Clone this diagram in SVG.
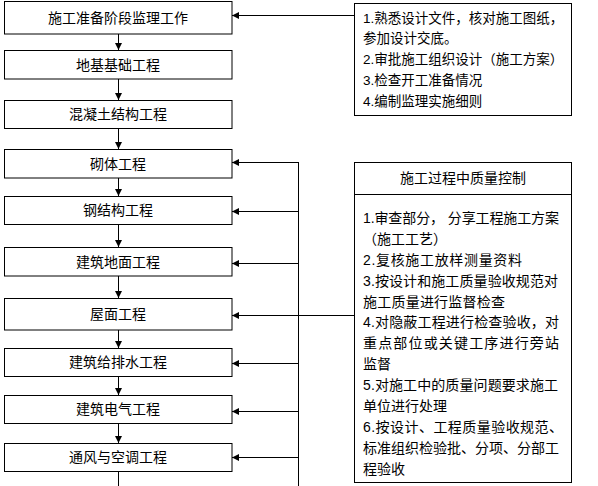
<svg xmlns="http://www.w3.org/2000/svg" width="598" height="486" viewBox="0 0 598 486">
<style>
.box{fill:#fff;stroke:#000;stroke-width:1}
.ln{fill:none;stroke:#000;stroke-width:1}
.t{font-family:"Liberation Sans","Noto Sans CJK SC",sans-serif;font-size:14px;fill:#000;text-anchor:middle}
.r{font-family:"Liberation Sans","Noto Sans CJK SC",sans-serif;font-size:13.5px;fill:#000}
.q{font-family:"Liberation Sans","Noto Sans CJK SC",sans-serif;font-size:14px;fill:#000}
</style>
<defs>
<marker id="ah" viewBox="0 0 7 7" refX="7" refY="3.5" markerWidth="7" markerHeight="7" orient="auto" markerUnits="userSpaceOnUse">
<path d="M0,0 L7,3.5 L0,7 z" fill="#000"/>
</marker>
</defs>
<rect width="598" height="486" fill="#fff"/>
<g id="connectors">
<path class="ln" d="M118.5,34 V50" marker-end="url(#ah)"/>
<path class="ln" d="M118.5,79 V100" marker-end="url(#ah)"/>
<path class="ln" d="M118.5,128 V149" marker-end="url(#ah)"/>
<path class="ln" d="M118.5,178 V196" marker-end="url(#ah)"/>
<path class="ln" d="M118.5,224 V247" marker-end="url(#ah)"/>
<path class="ln" d="M118.5,276 V298" marker-end="url(#ah)"/>
<path class="ln" d="M118.5,330 V348" marker-end="url(#ah)"/>
<path class="ln" d="M118.5,376 V395" marker-end="url(#ah)"/>
<path class="ln" d="M118.5,423 V443" marker-end="url(#ah)"/>
<path class="ln" d="M118.5,471 V486"/>
<path class="ln" d="M354,15.5 H232" marker-end="url(#ah)"/>
<path class="ln" d="M298.5,162 V486"/>
<path class="ln" d="M298.5,162.5 H232" marker-end="url(#ah)"/>
<path class="ln" d="M298.5,211.5 H232" marker-end="url(#ah)"/>
<path class="ln" d="M298.5,263.5 H232" marker-end="url(#ah)"/>
<path class="ln" d="M354,315.5 H232" marker-end="url(#ah)"/>
<path class="ln" d="M298.5,363.5 H232" marker-end="url(#ah)"/>
<path class="ln" d="M298.5,411.5 H232" marker-end="url(#ah)"/>
<path class="ln" d="M298.5,457.5 H232" marker-end="url(#ah)"/>
</g>
<g id="n1"><rect class="box" x="4.5" y="1.5" width="227.5" height="32.5"/><text class="t" x="118" y="22.5">施工准备阶段监理工作</text></g>
<g id="n2"><rect class="box" x="4.5" y="50.5" width="227.5" height="28.5"/><text class="t" x="118" y="69.5">地基基础工程</text></g>
<g id="n3"><rect class="box" x="4.5" y="100.5" width="227.5" height="28"/><text class="t" x="118" y="119">混凝土结构工程</text></g>
<g id="n4"><rect class="box" x="4.5" y="149.5" width="227.5" height="28.5"/><text class="t" x="118" y="168.5">砌体工程</text></g>
<g id="n5"><rect class="box" x="4.5" y="196.5" width="227.5" height="28"/><text class="t" x="118" y="215">钢结构工程</text></g>
<g id="n6"><rect class="box" x="4.5" y="247.5" width="227.5" height="28.5"/><text class="t" x="118" y="266.5">建筑地面工程</text></g>
<g id="n7"><rect class="box" x="4.5" y="298.5" width="227.5" height="31.5"/><text class="t" x="118" y="319">屋面工程</text></g>
<g id="n8"><rect class="box" x="4.5" y="348.5" width="227.5" height="28"/><text class="t" x="118" y="367">建筑给排水工程</text></g>
<g id="n9"><rect class="box" x="4.5" y="395.5" width="227.5" height="28"/><text class="t" x="118" y="414">建筑电气工程</text></g>
<g id="n10"><rect class="box" x="4.5" y="443.5" width="227.5" height="28"/><text class="t" x="118" y="462">通风与空调工程</text></g>
<g id="prep">
<rect class="box" x="354.5" y="3.5" width="217" height="112"/>
<text class="r" x="363" y="22.5">1.熟悉设计文件，核对施工图纸，</text>
<text class="r" x="363" y="43">参加设计交底。</text>
<text class="r" x="363" y="64">2.审批施工组织设计（施工方案）</text>
<text class="r" x="363" y="85">3.检查开工准备情况</text>
<text class="r" x="363" y="106">4.编制监理实施细则</text>
</g>
<g id="quality">
<rect class="box" x="354.5" y="162.5" width="217" height="320"/>
<path class="ln" d="M354.5,194.5 H571.5"/>
<text class="t" x="463" y="183">施工过程中质量控制</text>
<text class="q" x="363" y="223" textLength="196" lengthAdjust="spacing">1.审查部分， 分享工程施工方案</text>
<text class="q" x="363" y="244">（施工工艺）</text>
<text class="q" x="363" y="264.5" textLength="159" lengthAdjust="spacing">2.复核施工放样测量资料</text>
<text class="q" x="363" y="285.5" textLength="195" lengthAdjust="spacing">3.按设计和施工质量验收规范对</text>
<text class="q" x="363" y="306.5" textLength="142" lengthAdjust="spacing">施工质量进行监督检查</text>
<text class="q" x="363" y="327" textLength="196" lengthAdjust="spacing">4.对隐蔽工程进行检查验收，对</text>
<text class="q" x="363" y="348" textLength="196" lengthAdjust="spacing">重点部位或关键工序进行旁站</text>
<text class="q" x="363" y="369">监督</text>
<text class="q" x="363" y="390" textLength="195" lengthAdjust="spacing">5.对施工中的质量问题要求施工</text>
<text class="q" x="363" y="411">单位进行处理</text>
<text class="q" x="363" y="432" textLength="200" lengthAdjust="spacing">6.按设计、工程质量验收规范、</text>
<text class="q" x="363" y="452.5" textLength="196" lengthAdjust="spacing">标准组织检验批、分项、分部工</text>
<text class="q" x="363" y="473.5">程验收</text>
</g>
</svg>
